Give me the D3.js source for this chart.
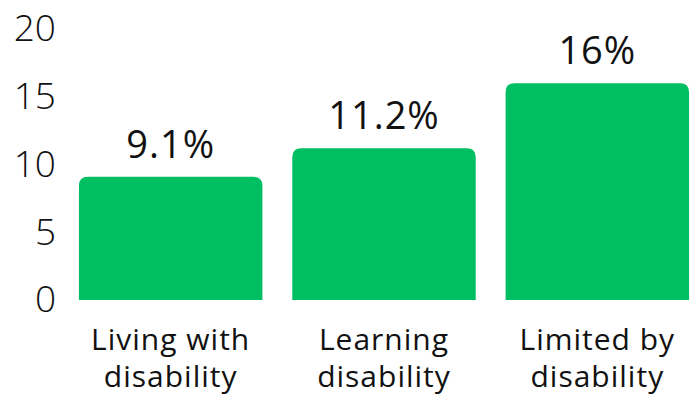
<!DOCTYPE html>
<html>
<head>
<meta charset="utf-8">
<script src="https://cdn.jsdelivr.net/npm/d3@7"></script>
<style>
  body { margin: 0; background: #fff; }
  text { font-family: "Open Sans", sans-serif; fill: #111; }
</style>
</head>
<body>
<div id="chart"></div>
<script>
"use strict";

// chart data
let categories = [["Living with", "disability"], ["Learning", "disability"], ["Limited by", "disability"]];
let values = [9.1, 11.2, 16];
let valueLabels = ["9.1%", "11.2%", "16%"];
let yTicks = [0, 5, 10, 15, 20];

let svgWidth = 698;
let svgHeight = 405;

let svg = d3.select("#chart")
    .append("svg")
    .attr("width", svgWidth)
    .attr("height", svgHeight);

// scales
let xScale = d3.scaleBand()
    .domain(d3.range(values.length))
    .range([64, 704])
    .paddingInner(0.14)
    .paddingOuter(0.07);

let yScale = d3.scaleLinear()
    .domain([0, 20])
    .range([300, 29]);

// y axis labels only, no line
let yAxis = svg.append("g")
    .attr("transform", "translate(56,0)")
    .call(d3.axisLeft(yScale).tickValues(yTicks).tickSize(0).tickPadding(0));

yAxis.select(".domain").remove();
yAxis.selectAll("text")
    .attr("font-family", "Open Sans")
    .attr("font-weight", 300)
    .attr("font-size", "37px")
    .attr("fill", "#111");

// bars with rounded top corners
function barPath(i) {
    let x = xScale(i);
    let w = xScale.bandwidth();
    let y = yScale(values[i]);
    let y0 = yScale(0);
    let r = 9;
    return "M" + x + "," + y0 +
        "V" + (y + r) +
        "Q" + x + "," + y + " " + (x + r) + "," + y +
        "H" + (x + w - r) +
        "Q" + (x + w) + "," + y + " " + (x + w) + "," + (y + r) +
        "V" + y0 + "Z";
}

svg.selectAll(".bar")
    .data(values)
    .join("path")
    .attr("class", "bar")
    .attr("d", (d, i) => barPath(i))
    .attr("fill", "#00BF63");

// value labels
svg.selectAll(".value")
    .data(values)
    .join("text")
    .attr("class", "value")
    .attr("x", (d, i) => xScale(i) + xScale.bandwidth() / 2)
    .attr("y", d => yScale(d) - 19)
    .attr("text-anchor", "middle")
    .attr("font-size", "38px")
    .attr("letter-spacing", "1px")
    .text((d, i) => valueLabels[i]);

// category labels, two lines each
let catText = svg.selectAll(".cat")
    .data(categories)
    .join("text")
    .attr("class", "cat")
    .attr("x", (d, i) => xScale(i) + xScale.bandwidth() / 2)
    .attr("y", 350)
    .attr("text-anchor", "middle")
    .attr("font-size", "30px")
    .attr("letter-spacing", "1px");

catText.selectAll("tspan")
    .data(d => d)
    .join("tspan")
    .attr("x", function () { return d3.select(this.parentNode).attr("x"); })
    .attr("dy", (d, j) => j === 0 ? 0 : 37)
    .text(d => d);
</script>
</body>
</html>
